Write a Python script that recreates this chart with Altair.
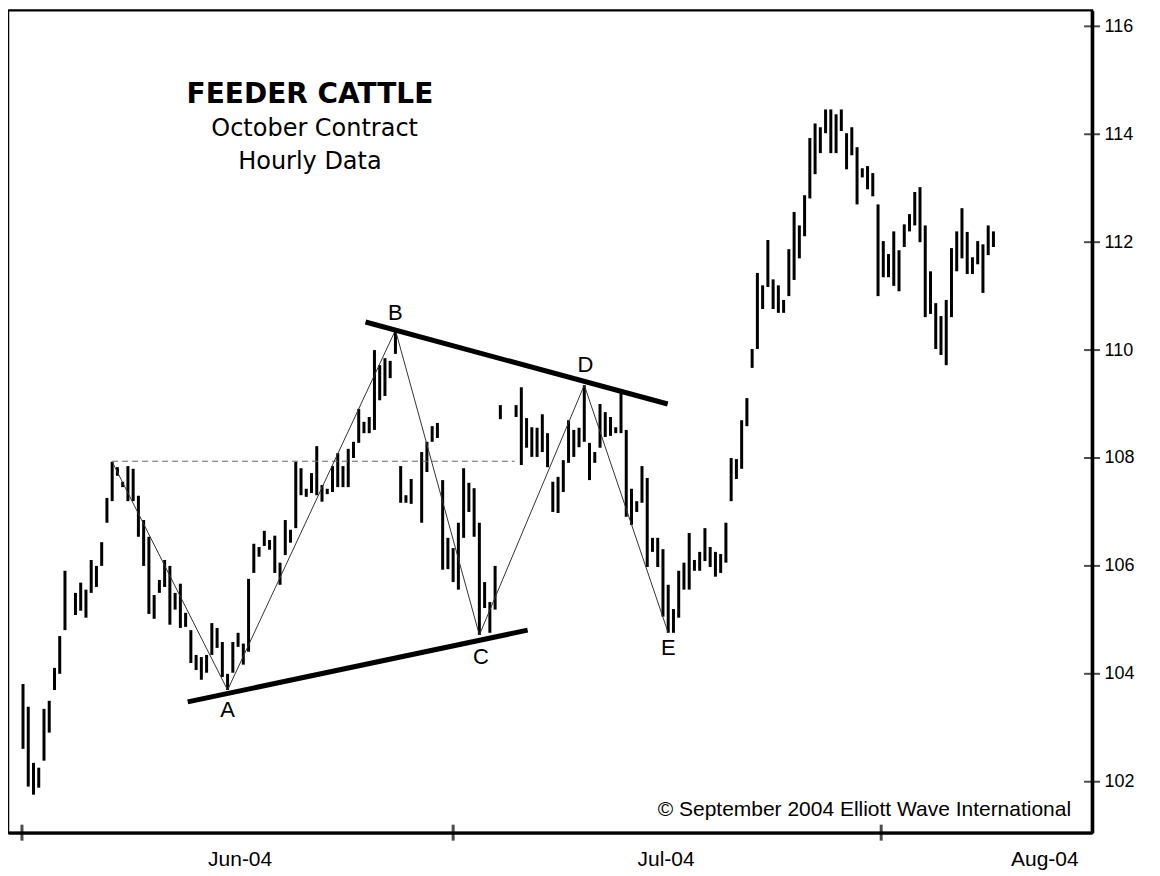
import altair as alt
import pandas as pd

# ---- hourly bars (high / low), one entry per bar slot; None = no bar ----
bar_high = [103.81, 103.39, 102.35, 102.26, 103.35, 103.50, 104.11, 104.70, 105.91, None,
            105.50, 105.69, 105.56, 106.11, 106.00, 106.44, 107.26, 107.93, 107.83, 107.56,
            107.85, 107.80, 107.30, 106.85, 106.54, 105.46, 105.74, 106.11, 106.00, 105.50,
            105.67, 105.13, 104.81, 104.35, 104.31, 104.35, 104.94, 104.85, 104.59, 104.00,
            104.59, 104.76, 104.56, 105.76, 106.41, 106.35, 106.65, 106.48, 106.56, 106.06,
            106.85, 106.67, 107.93, 107.81, 107.43, 107.72, 108.22, 107.50, 107.43, 107.85,
            108.09, 107.85, 108.17, 108.30, 108.91, 108.67, 108.76, 110.00, 109.72, 109.85,
            109.80, 110.37, 107.85, 107.31, 107.61, None, 108.11, 108.30, 108.59, 108.65,
            107.59, 106.52, 106.33, 106.80, 107.81, 107.54, 107.44, 106.80, 105.70, 105.33,
            106.00, 108.98, None, None, 108.98, 109.31, 108.74, 108.57, 108.56, 108.81,
            108.46, 107.56, 107.65, 107.96, 108.70, 108.52, 108.56, 109.35, 108.28, 108.11,
            109.00, 108.85, 108.76, 108.57, 109.20, 108.52, 107.43, 107.20, 107.85, 107.63,
            106.52, 106.52, 106.31, 105.65, 105.20, 105.91, 106.06, 106.61, 106.11, 106.26,
            106.70, 106.35, 106.26, 106.22, 106.80, 108.00, 107.98, 108.70, 109.11, 110.02,
            111.43, 111.20, 112.04, 111.31, 111.20, 110.93, 111.87, 112.56, 112.31, 112.87,
            113.93, 114.20, 114.13, 114.46, 114.46, 114.37, 114.46, 114.02, 114.13, 113.76,
            113.37, 113.41, 113.28, 112.70, 112.02, 111.78, 112.20, 111.85, 112.33, 112.52,
            112.93, 113.02, 112.31, 111.46, 110.87, 110.63, 110.93, 111.89, 112.20, 112.63,
            112.19, 111.72, 112.02, 111.96, 112.31, 112.20]

bar_low = [102.61, 101.91, 101.76, 101.89, 102.39, 102.91, 103.70, 104.00, 104.81, None,
           105.09, 105.17, 105.04, 105.50, 105.61, 106.00, 106.80, 107.20, 107.67, 107.46,
           107.20, 107.20, 106.54, 106.00, 105.11, 105.02, 105.50, 105.61, 104.91, 105.19,
           104.85, 104.87, 104.20, 104.07, 103.89, 104.02, 104.35, 104.48, 103.94, 103.70,
           104.02, 104.50, 104.17, 104.41, 105.87, 106.17, 106.37, 106.30, 105.87, 105.65,
           106.20, 106.43, 106.70, 107.31, 107.28, 107.35, 107.31, 107.19, 107.33, 107.37,
           107.46, 107.46, 107.46, 108.00, 108.28, 108.46, 108.46, 108.52, 109.07, 109.15,
           109.48, 109.93, 107.17, 107.17, 107.15, None, 106.80, 107.74, 108.30, 108.37,
           105.93, 105.94, 105.70, 105.56, 106.52, 107.00, 106.54, 104.72, 105.22, 104.76,
           105.19, 108.72, None, None, 108.76, 107.87, 108.19, 108.02, 108.02, 108.11,
           107.83, 107.00, 106.98, 107.37, 107.91, 108.02, 108.20, 108.30, 107.59, 107.91,
           108.19, 108.39, 108.41, 108.46, 108.46, 106.91, 106.76, 107.00, 107.17, 105.98,
           106.26, 105.98, 105.06, 104.76, 104.76, 105.04, 105.56, 105.56, 105.91, 105.91,
           106.09, 105.98, 105.80, 105.87, 106.06, 107.20, 107.61, 107.80, 108.59, 109.67,
           110.02, 110.76, 111.17, 110.76, 110.69, 110.69, 111.00, 111.30, 111.70, 112.11,
           112.81, 113.26, 113.65, 114.02, 113.65, 113.65, 114.06, 113.35, 113.61, 112.70,
           113.20, 112.98, 112.85, 111.00, 111.35, 111.35, 111.19, 111.09, 111.91, 112.20,
           112.31, 112.00, 110.61, 110.67, 110.02, 109.91, 109.72, 110.61, 111.46, 111.70,
           111.41, 111.41, 111.59, 111.06, 111.76, 111.91]

# ---- wave pivots (zig-zag) ----
pivot_index = [17, 39, 71, 87, 107, 123]
pivot_price = [107.93, 103.70, 110.37, 104.72, 109.35, 104.76]

wave_labels = ["A", "B", "C", "D", "E"]
wave_label_index = [39, 71, 87.3, 107.2, 123]
wave_label_price = [103.33, 110.69, 104.31, 109.72, 104.48]

# ---- triangle boundary lines ----
trend_id = ["lower", "lower", "upper", "upper"]
trend_index = [31.4, 96.2, 65.3, 122.9]
trend_price = [103.48, 104.81, 110.52, 109.00]

# ---- dashed reference line ----
ref_index = [17, 93.7]
ref_price = [107.94, 107.94]

# ---- axes ----
month_boundaries = [-0.2, 82.0, 163.6]
month_label_pos = [41.3, 122.5, 194.7]
month_labels = ["Jun-04", "Jul-04", "Aug-04"]
price_ticks = [102, 104, 106, 108, 110, 112, 114, 116]

# ---- text ----
title_lines = ["FEEDER CATTLE", "October Contract", "Hourly Data"]
title_index = [54.7, 55.6, 54.7]
title_price = [114.72, 114.09, 113.48]
copyright_text = ["\u00a9 September 2004 Elliott Wave International"]
copyright_index = [199.8]
copyright_price = [101.47]

X_DOMAIN = [-2.86, 203.8]
Y_DOMAIN = [101.056, 116.296]

xs = alt.Scale(domain=X_DOMAIN, nice=False, zero=False)
ys = alt.Scale(domain=Y_DOMAIN, nice=False, zero=False)

bars_df = pd.DataFrame({"i": list(range(len(bar_high))), "p": bar_low, "hi": bar_high}).dropna()
pivot_df = pd.DataFrame({"i": pivot_index, "p": pivot_price})
wave_df = pd.DataFrame({"i": wave_label_index, "p": wave_label_price, "t": wave_labels})
trend_df = pd.DataFrame({"i": trend_index, "p": trend_price, "g": trend_id})
ref_df = pd.DataFrame({"i": ref_index, "p": ref_price})
xt_df = pd.DataFrame({"i": month_boundaries, "p": [Y_DOMAIN[0]] * len(month_boundaries)})
yt_df = pd.DataFrame({"i": [X_DOMAIN[1]] * len(price_ticks), "p": price_ticks})
t1_df = pd.DataFrame({"i": title_index[:1], "p": title_price[:1], "t": title_lines[:1]})
t2_df = pd.DataFrame({"i": title_index[1:], "p": title_price[1:], "t": title_lines[1:]})
cp_df = pd.DataFrame({"i": copyright_index, "p": copyright_price, "t": copyright_text})

label_expr = " : ".join(
    f"datum.value < {month_label_pos[k] + 1} ? '{month_labels[k]}'" for k in range(len(month_labels) - 1)
) + f" : '{month_labels[-1]}'"

x_axis = alt.Axis(values=month_label_pos, labelExpr=label_expr, tickSize=0, grid=False, title=None,
                  domainColor="black", domainWidth=3, labelFont="Liberation Sans", labelFontSize=21,
                  labelColor="black", labelPadding=16, labelOverlap=False, labelFlush=False)
y_axis = alt.Axis(values=price_ticks, orient="right", tickSize=0, grid=False, title=None,
                  domainColor="black", domainWidth=3.5, labelFont="Liberation Sans", labelFontSize=18,
                  labelColor="black", labelPadding=12, labelOverlap=False, labelFlush=False)


def X():
    return alt.X("i:Q", scale=xs, axis=x_axis)


def Y():
    return alt.Y("p:Q", scale=ys, axis=y_axis)


bars = alt.Chart(bars_df).mark_rule(color="black", strokeWidth=3).encode(x=X(), y=Y(), y2="hi:Q")
ref = alt.Chart(ref_df).mark_line(color="#666666", strokeWidth=1, strokeDash=[6, 4]).encode(x=X(), y=Y())
zig = alt.Chart(pivot_df).mark_line(color="#333333", strokeWidth=1).encode(x=X(), y=Y())
trend = alt.Chart(trend_df).mark_line(color="black", strokeWidth=5).encode(x=X(), y=Y(), detail="g:N")
waves = alt.Chart(wave_df).mark_text(font="Liberation Sans", fontSize=22, color="black",
                                      baseline="middle", align="center").encode(x=X(), y=Y(), text="t:N")
t1 = alt.Chart(t1_df).mark_text(font="DejaVu Sans", fontWeight="bold", fontSize=28, color="black",
                                 baseline="middle", align="center").encode(x=X(), y=Y(), text="t:N")
t2 = alt.Chart(t2_df).mark_text(font="DejaVu Sans", fontSize=24, color="black",
                                 baseline="middle", align="center").encode(x=X(), y=Y(), text="t:N")
cp = alt.Chart(cp_df).mark_text(font="Liberation Sans", fontSize=21, color="black",
                                 baseline="middle", align="right").encode(x=X(), y=Y(), text="t:N")
xticks = alt.Chart(xt_df).mark_tick(orient="vertical", size=16, thickness=3, color="black").encode(x=X(), y=Y())
yticks = alt.Chart(yt_df).mark_tick(orient="horizontal", size=16, thickness=2, color="black").encode(x=X(), y=Y())

chart = alt.layer(bars, ref, zig, trend, waves, t1, t2, cp, xticks, yticks).properties(
    width=1085, height=823,
    autosize=alt.AutoSizeParams(type="none"),
    padding={"left": 0, "top": 2, "right": 60, "bottom": 40},
    background="white",
).configure_view(stroke="black", strokeWidth=2.5)

chart.save("out.html", embed_options={"renderer": "svg", "actions": False})
